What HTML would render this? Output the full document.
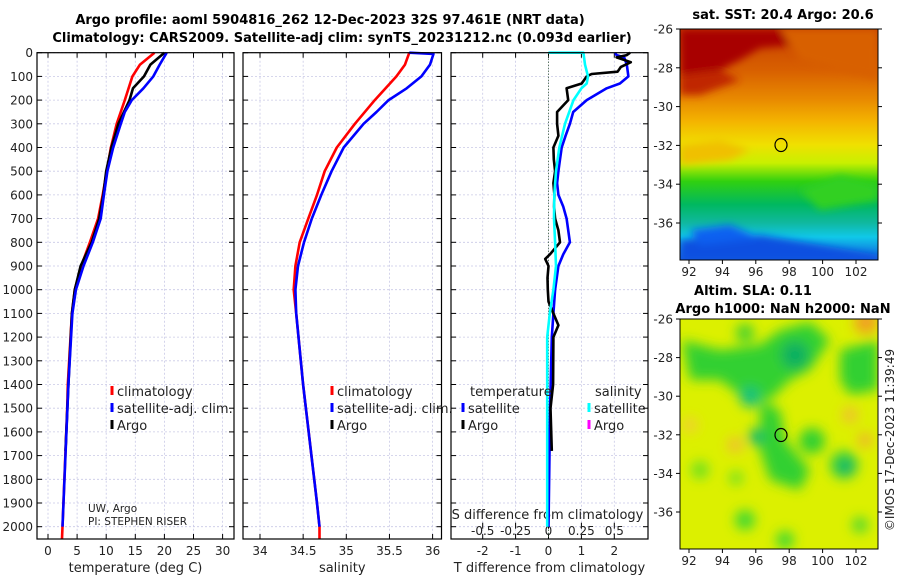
<!DOCTYPE html>
<html><head><meta charset="utf-8">
<style>
body{margin:0;background:#fff;}
svg{display:block;font-family:"DejaVu Sans","Liberation Sans",sans-serif;}
</style></head>
<body>
<svg id="fig" width="900" height="580" viewBox="0 0 900 580" xmlns="http://www.w3.org/2000/svg">
<defs>
  <linearGradient id="sstGrad" x1="0" y1="0" x2="0" y2="1">
    <stop offset="0" stop-color="#c84000"/>
    <stop offset="0.18" stop-color="#d86000"/>
    <stop offset="0.3" stop-color="#e88800"/>
    <stop offset="0.4" stop-color="#f4b400"/>
    <stop offset="0.5" stop-color="#f0e000"/>
    <stop offset="0.58" stop-color="#c8f000"/>
    <stop offset="0.66" stop-color="#30d010"/>
    <stop offset="0.76" stop-color="#00b860"/>
    <stop offset="0.84" stop-color="#10b8a0"/>
    <stop offset="0.9" stop-color="#10c8e8"/>
    <stop offset="1" stop-color="#1060e0"/>
  </linearGradient>
  <filter id="blur4"><feGaussianBlur stdDeviation="4"/></filter>
  <filter id="blur6"><feGaussianBlur stdDeviation="6"/></filter>
  <clipPath id="clipMap1"><rect x="680" y="29" width="198" height="231"/></clipPath>
  <clipPath id="clipMap2"><rect x="680" y="319" width="198" height="230"/></clipPath>
</defs>
<g font-weight="bold" font-size="13" text-anchor="middle">
  <text x="330" y="24">Argo profile: aoml 5904816_262 12-Dec-2023 32S 97.461E (NRT data)</text>
  <text x="342" y="42">Climatology: CARS2009. Satellite-adj clim: synTS_20231212.nc (0.093d earlier)</text>
</g>
<g id="panels"></g>

<g>
  <text x="783" y="19" font-size="13" font-weight="bold" text-anchor="middle">sat. SST: 20.4 Argo: 20.6</text>
  <g clip-path="url(#clipMap1)">
    <rect x="680" y="29" width="198" height="231" fill="url(#sstGrad)"/>
    <g filter="url(#blur4)">
      <path d="M680,29 L800,29 L795,45 L760,48 L740,60 L720,70 L680,75 Z" fill="#a80000"/>
      <path d="M680,75 L720,70 L740,80 L700,95 L680,95Z" fill="#c02800"/>
      <path d="M780,29 L878,29 L878,80 L840,70 L800,60Z" fill="#d86000"/>
      <path d="M680,145 L720,140 L750,150 L730,160 L680,165Z" fill="#f0c000"/>
      <path d="M800,190 L840,175 L878,185 L878,200 L820,210Z" fill="#30d020"/>
      <path d="M680,240 L760,235 L820,245 L878,255 L878,262 L680,262Z" fill="#1050e0"/>
      <path d="M690,230 L730,225 L760,238 L700,245Z" fill="#1060f0"/>
    </g>
    <ellipse cx="781" cy="145" rx="6" ry="6.5" fill="none" stroke="#000" stroke-width="1.2"/>
  </g>
  <rect x="680" y="29" width="198" height="231" fill="none" stroke="#000" stroke-width="1"/>
  <g id="map1ticks"></g>
</g>

<g>
  <text x="753" y="295" font-size="13" font-weight="bold" text-anchor="middle">Altim. SLA: 0.11</text>
  <text x="783" y="313" font-size="13" font-weight="bold" text-anchor="middle">Argo h1000: NaN h2000: NaN</text>
  <g clip-path="url(#clipMap2)">
    <rect x="680" y="319" width="198" height="230" fill="#dcf000"/>
    <g filter="url(#blur6)">
      <path d="M682,340 L720,350 L760,345 L780,330 L810,322 L830,340 L810,370 L790,380 L770,400 L740,395 L720,380 L690,380Z" fill="#30d030"/>
      <path d="M840,350 L878,340 L878,390 L850,395 L840,380Z" fill="#30d030"/>
      <path d="M760,400 L780,410 L785,440 L810,470 L800,490 L770,480 L760,450Z" fill="#30d030"/>
      <circle cx="812" cy="441" r="13" fill="#30d030"/>
      <circle cx="844" cy="465" r="14" fill="#30d040"/>
      <circle cx="745" cy="520" r="10" fill="#40d830"/>
      <circle cx="785" cy="540" r="9" fill="#40d830"/>
      <circle cx="700" cy="470" r="9" fill="#70e020"/>
      <circle cx="736" cy="478" r="7" fill="#70e020"/>
      <circle cx="860" cy="525" r="8" fill="#50d830"/>
      <circle cx="745" cy="333" r="9" fill="#40d030"/>
      <circle cx="795" cy="355" r="14" fill="#10b060"/>
      <circle cx="750" cy="397" r="10" fill="#10c080"/>
      <circle cx="756" cy="437" r="8" fill="#10b870"/>
      <circle cx="846" cy="467" r="7" fill="#10b070"/>
      <circle cx="866" cy="322" r="12" fill="#f0a020"/>
      <circle cx="735" cy="445" r="8" fill="#f0c030"/>
      <circle cx="850" cy="415" r="8" fill="#f0c030"/>
      <circle cx="865" cy="440" r="7" fill="#f0b030"/>
      <circle cx="690" cy="425" r="8" fill="#f0d030"/>
    </g>
    <ellipse cx="781" cy="435" rx="6" ry="6.5" fill="none" stroke="#000" stroke-width="1.2"/>
  </g>
  <rect x="680" y="319" width="198" height="230" fill="none" stroke="#000" stroke-width="1"/>
  <g id="map2ticks"></g>
</g>
<text transform="translate(894,440) rotate(-90)" font-size="12" text-anchor="middle" fill="#222">©IMOS 17-Dec-2023 11:39:49</text>
</svg>

<script>
const depthTicks = [0,100,200,300,400,500,600,700,800,900,1000,1100,1200,1300,1400,1500,1600,1700,1800,1900,2000];
const tempTicks = [0,5,10,15,20,25,30];
const salTicks = [34,34.5,35,35.5,36];
const salTickLabels = ["34","34.5","35","35.5","36"];
const tdiffTicks = [-2,-1,0,1,2];
const sdiffTicks = [-0.5,-0.25,0,0.25,0.5];
const sdiffTickLabels = ["-0.5","-0.25","0","0.25","0.5"];

const climTempDepth = [0,50,100,200,300,400,500,600,700,800,900,1000,1100,1400,1500,2000,2050];
const climTemp = [18.3,15.8,14.5,13.2,11.8,10.8,10.1,9.4,8.6,7.2,5.7,4.6,4.1,3.4,3.3,2.5,2.4];
const satTempDepth = [0,50,100,150,200,250,300,400,500,600,700,800,900,1000,1100,1400,2000];
const satTemp = [20.4,19.2,18.1,16.4,14.4,13.2,12.5,11.2,10.2,9.6,9.05,7.7,6.1,4.8,4.2,3.5,2.5];
const argoTempDepth = [0,50,100,150,200,300,400,500,600,700,800,900,1000,1100,1400,1680];
const argoTemp = [20.0,17.6,16.5,14.6,14.0,12.1,10.9,10.0,9.5,8.8,7.5,5.6,4.6,4.1,3.5,3.0];

const climSalDepth = [0,50,100,200,300,400,500,600,700,800,900,1000,1100,1400,1900,2000,2050];
const climSal = [35.73,35.68,35.58,35.33,35.10,34.89,34.75,34.66,34.56,34.46,34.41,34.39,34.42,34.50,34.66,34.69,34.69];
const satSalDepth = [0,5,50,100,150,200,250,300,400,500,600,700,800,900,1000,1100,1400,1900,2000];
const satSal = [35.73,36.01,35.97,35.87,35.70,35.49,35.35,35.20,34.97,34.83,34.71,34.60,34.51,34.44,34.41,34.42,34.50,34.66,34.69];

const argoTdiffDepth = [0,10,20,40,60,80,90,100,130,150,200,250,300,350,400,450,500,550,600,650,700,750,800,850,870,900,950,1000,1050,1100,1150,1200,1400,1500,1680];
const argoTdiff = [2.48,2.38,2.07,2.5,2.2,2.1,1.31,1.16,1.01,0.55,0.6,0.26,0.26,0.3,0.15,0.16,0.2,0.15,0.18,0.17,0.2,0.3,0.35,0.05,-0.1,0.0,-0.03,-0.02,0.0,0.15,0.3,0.15,0.14,0.06,0.1];
const satTdiffDepth = [0,10,20,50,100,130,150,200,250,300,350,400,450,500,550,600,650,700,800,850,900,1000,1100,1200,1500,2000];
const satTdiff = [2.02,2.07,2.3,2.38,2.43,2.17,1.77,1.16,0.75,0.65,0.52,0.40,0.35,0.30,0.26,0.30,0.45,0.55,0.65,0.45,0.3,0.2,0.15,0.1,0.05,0.0];
const satSdiffDepth = [0,0,50,100,130,150,200,300,400,500,600,700,800,900,1000,1100,1200,1600,2000];
const satSdiff = [0,0.265,0.277,0.30,0.29,0.25,0.19,0.125,0.082,0.057,0.044,0.042,0.05,0.057,0.037,0.01,-0.01,-0.01,-0.01];

const TOP = 52.7, BOT = 539, PX_PER_M = (526.7-52.7)/2000;
const yD = d => TOP + d*PX_PER_M;
const xT = t => 48 + t*5.82;
const xS = s => 260 + (s-34)*86.3;
const xTd = t => 548.5 + t*32.9;
const xSd = s => 548.5 + s*131.6;

const NS = "http://www.w3.org/2000/svg";
const root = document.getElementById('panels');
function mk(tag, attrs, parent){
  const e = document.createElementNS(NS, tag);
  for (const k in attrs) e.setAttribute(k, attrs[k]);
  (parent||root).appendChild(e);
  return e;
}
function txt(x,y,s,size,anchor,parent){
  const t = mk('text',{x:x,y:y,'font-size':size,'text-anchor':anchor||'middle',fill:'#222'},parent);
  t.textContent = s; return t;
}

const panels = [
  {name:'temperature-panel', x0:37, x1:234, ticks:tempTicks, labels:tempTicks.map(String), fx:xT, xlabel:'temperature (deg C)'},
  {name:'salinity-panel', x0:243, x1:441.5, ticks:salTicks, labels:salTickLabels, fx:xS, xlabel:'salinity'},
  {name:'difference-panel', x0:451, x1:648, ticks:tdiffTicks, labels:tdiffTicks.map(String), fx:xTd, xlabel:'T difference from climatology'}
];

panels.forEach((p,pi)=>{
  const g = mk('g',{});
  
  
  depthTicks.forEach(d=>{
    mk('line',{x1:p.x0,x2:p.x1,y1:yD(d),y2:yD(d),stroke:'#c9c9e6','stroke-width':0.8,'stroke-dasharray':'2,2'},g);
    mk('line',{x1:p.x0,x2:p.x0+5,y1:yD(d),y2:yD(d),stroke:'#000','stroke-width':1},g);
    mk('line',{x1:p.x1-5,x2:p.x1,y1:yD(d),y2:yD(d),stroke:'#000','stroke-width':1},g);
  });
  p.ticks.forEach((t,i)=>{
    const x = p.fx(t);
    mk('line',{x1:x,x2:x,y1:TOP,y2:BOT,stroke:'#c9c9e6','stroke-width':0.8,'stroke-dasharray':'2,2'},g);
    mk('line',{x1:x,x2:x,y1:BOT-5,y2:BOT,stroke:'#000','stroke-width':1},g);
    mk('line',{x1:x,x2:x,y1:TOP,y2:TOP+5,stroke:'#000','stroke-width':1},g);
    const tl = txt(x,555,p.labels[i],12,'middle',g);
    
    
  });
  const xl = txt((p.x0+p.x1)/2,572,p.xlabel,13,'middle',g);
  
  
  p.g = g;
});

depthTicks.forEach(d=>{
  const t = txt(33, yD(d)+4.5, String(d), 12, 'end');
  
  
});

mk('line',{x1:xTd(0),x2:xTd(0),y1:TOP,y2:BOT,stroke:'#335533','stroke-width':1,'stroke-dasharray':'1,2'},panels[2].g);

sdiffTicks.forEach((s,i)=>{
  const x = xSd(s);
  mk('line',{x1:x,x2:x,y1:yD(2000)-4,y2:yD(2000)+2,stroke:'#000','stroke-width':1},panels[2].g);
  const t = txt(x, 535, sdiffTickLabels[i], 12, 'middle', panels[2].g);
  
  
});
const sdt = txt(xSd(0)-1, 519, 'S difference from climatology', 13, 'middle', panels[2].g);



function line(depths, vals, fx, color, parent, name){
  const pts = depths.map((d,i)=>fx(vals[i]).toFixed(1)+','+yD(d).toFixed(1)).join(' ');
  const pl = mk('polyline',{points:pts,fill:'none',stroke:color,'stroke-width':2.6,'stroke-linejoin':'round'},parent);
  
  
}
line(climTempDepth, climTemp, xT, '#ff0000', panels[0].g, 'climatology-temperature-line');
line(argoTempDepth, argoTemp, xT, '#000000', panels[0].g, 'argo-temperature-line');
line(satTempDepth, satTemp, xT, '#0000ff', panels[0].g, 'satellite-temperature-line');
line(climSalDepth, climSal, xS, '#ff0000', panels[1].g, 'climatology-salinity-line');
line(satSalDepth, satSal, xS, '#0000ff', panels[1].g, 'satellite-salinity-line');
line(satTdiffDepth, satTdiff, xTd, '#0000ff', panels[2].g, 'satellite-t-diff-line');
line(argoTdiffDepth, argoTdiff, xTd, '#000000', panels[2].g, 'argo-t-diff-line');
line(satSdiffDepth, satSdiff, xSd, '#00ffff', panels[2].g, 'satellite-s-diff-line');

panels.forEach(p=>{
  mk('rect',{x:p.x0,y:TOP,width:p.x1-p.x0,height:BOT-TOP,fill:'none',stroke:'#000','stroke-width':1.2},p.g);
});

function legendItem(x,y,color,label,name,parent){
  const g = mk('g',{},parent);
  
  
  mk('rect',{x:x-1.5,y:y-10,width:3,height:9,fill:color},g);
  txt(x+5,y,label,13,'start',g);
}
legendItem(112,396,'#ff0000','climatology','legend-entry-climatology',panels[0].g);
legendItem(112,413,'#0000ff','satellite-adj. clim.','legend-entry-satellite',panels[0].g);
legendItem(112,430,'#000000','Argo','legend-entry-argo',panels[0].g);
legendItem(332,396,'#ff0000','climatology','legend-entry-climatology-sal',panels[1].g);
legendItem(332,413,'#0000ff','satellite-adj. clim.','legend-entry-satellite-sal',panels[1].g);
legendItem(332,430,'#000000','Argo','legend-entry-argo-sal',panels[1].g);
const lt = txt(470,396,'temperature',13,'start',panels[2].g);


legendItem(463,413,'#0000ff','satellite','legend-entry-t-satellite',panels[2].g);
legendItem(463,430,'#000000','Argo','legend-entry-t-argo',panels[2].g);
const ls = txt(595,396,'salinity',13,'start',panels[2].g);


legendItem(589,413,'#00ffff','satellite','legend-entry-s-satellite',panels[2].g);
legendItem(589,430,'#ff00ff','Argo','legend-entry-s-argo',panels[2].g);

const pi1 = txt(88,512,'UW, Argo',10.5,'start',panels[0].g);


const pi2 = txt(88,525,'PI: STEPHEN RISER',10.5,'start',panels[0].g);



const lonTicks = [92,94,96,98,100,102];
const latTicks = [-26,-28,-30,-32,-34,-36];
function mapTicks(id, yTop, yBot, pxLat){
  const g = document.getElementById(id);
  lonTicks.forEach(lo=>{
    const x = 689 + (lo-92)*16.7;
    mk('line',{x1:x,x2:x,y1:yBot,y2:yBot+4,stroke:'#000'},g);
    const t = txt(x, yBot+16, String(lo), 12, 'middle', g);
    
    
  });
  latTicks.forEach(la=>{
    const y = yTop + (-26-la)*pxLat;
    mk('line',{x1:676,x2:680,y1:y,y2:y,stroke:'#000'},g);
    mk('line',{x1:878,x2:882,y1:y,y2:y,stroke:'#000'},g);
    const t = txt(673, y+4.5, String(la), 12, 'end', g);
    
    
  });
}
mapTicks('map1ticks', 29, 260, 19.4);
mapTicks('map2ticks', 319, 549, 19.3);
</script>
</body></html>
